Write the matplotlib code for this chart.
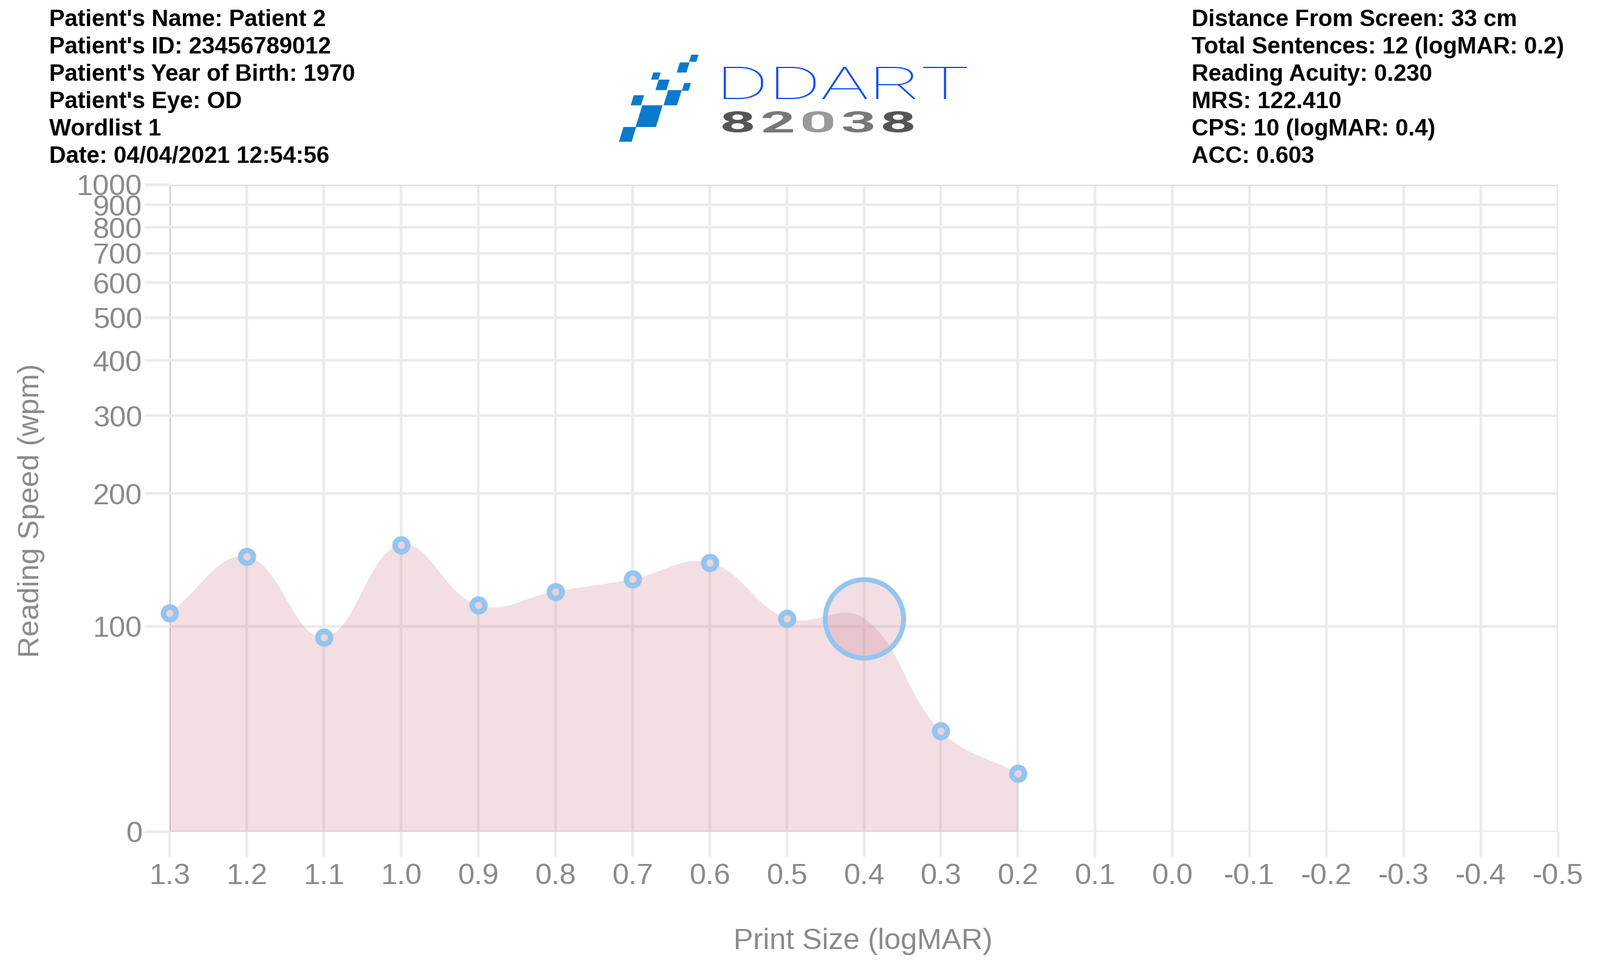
import numpy as np
import matplotlib
matplotlib.use('Agg')
import matplotlib.pyplot as plt
from matplotlib.textpath import TextPath
from matplotlib.font_manager import FontProperties
from matplotlib.patches import PathPatch, Polygon
from matplotlib.transforms import Affine2D

# %% data

left_info = ["Patient's Name: Patient 2",
             "Patient's ID: 23456789012",
             "Patient's Year of Birth: 1970",
             "Patient's Eye: OD",
             "Wordlist 1",
             "Date: 04/04/2021 12:54:56"]

right_info = ["Distance From Screen: 33 cm",
              "Total Sentences: 12 (logMAR: 0.2)",
              "Reading Acuity: 0.230",
              "MRS: 122.410",
              "CPS: 10 (logMAR: 0.4)",
              "ACC: 0.603"]

print_size = [1.3, 1.2, 1.1, 1.0, 0.9, 0.8, 0.7, 0.6, 0.5, 0.4, 0.3, 0.2]
reading_speed = [107.2, 143.9, 94.5, 153.0, 111.6, 119.9, 127.9, 139.4, 104.3, 104.3, 57.9, 46.4]
cps_logmar = 0.4

x_ticks = [1.3, 1.2, 1.1, 1.0, 0.9, 0.8, 0.7, 0.6, 0.5, 0.4, 0.3, 0.2, 0.1, 0.0,
           -0.1, -0.2, -0.3, -0.4, -0.5]
x_tick_labels = ['1.3', '1.2', '1.1', '1.0', '0.9', '0.8', '0.7', '0.6', '0.5', '0.4',
                 '0.3', '0.2', '0.1', '0.0', '-0.1', '-0.2', '-0.3', '-0.4', '-0.5']
y_ticks = [0, 100, 200, 300, 400, 500, 600, 700, 800, 900, 1000]

# %% figure setup

W, H = 2633, 1580
fig = plt.figure(figsize=(W / 100, H / 100), dpi=100)
pix = Affine2D().scale(1 / W, -1 / H).translate(0, 1) + fig.transFigure

GRID = '#ebebeb'
TXT = '#8a8a8a'
PT = 72 / 100  # px -> pt

ax = fig.add_axes([279 / W, (H - 1369) / H, (2564 - 279) / W, (1369 - 304) / H])

# log axis with the zero value squeezed below the first tick (chart.js style)
FIRST = 40.0
GAP = 49 / 727


def fwd(v):
    v = np.asarray(v, dtype=float)
    lg = np.log10(np.maximum(v, FIRST))
    lin = np.log10(FIRST) - GAP * (FIRST - v) / FIRST
    return np.where(v >= FIRST, lg, lin)


def inv(t):
    t = np.asarray(t, dtype=float)
    ex = 10 ** np.clip(t, -6, 6)
    lin = FIRST - (np.log10(FIRST) - t) * FIRST / GAP
    return np.where(t >= np.log10(FIRST), ex, lin)


ax.set_yscale('function', functions=(fwd, inv))
ax.set_xlim(1.3, -0.5)
ax.set_ylim(0, 1000)

ax.set_xticks(x_ticks)
ax.set_xticklabels(x_tick_labels)
ax.set_yticks(y_ticks)
ax.set_yticklabels([str(v) for v in y_ticks])
ax.yaxis.set_minor_locator(matplotlib.ticker.NullLocator())
ax.xaxis.set_minor_locator(matplotlib.ticker.NullLocator())

for s in ax.spines.values():
    s.set_visible(False)
ax.grid(True, color=GRID, linewidth=4.4 * PT, zorder=0)
ax.set_axisbelow(True)
ax.tick_params(length=41 * PT, width=4.4 * PT, color=GRID, labelcolor=TXT,
               labelsize=35)
ax.tick_params(axis='x', pad=7)
ax.tick_params(axis='y', pad=3)
for lab in ax.get_xticklabels() + ax.get_yticklabels():
    lab.set_family(['Liberation Sans', 'DejaVu Sans'])

# darker left axis line at the first x tick
t0 = ax.xaxis.get_major_ticks()[0]
t0.gridline.set_color('#c4c4c4')
t0.gridline.set_linewidth(3.5 * PT)
t0.tick1line.set_color('#c4c4c4')
ax.yaxis.get_major_ticks()[-1].gridline.set_color('#dddddd')

# %% smoothed area (chart.js bezier, tension 0.4)

pts = ax.transData.transform(np.column_stack([print_size, reading_speed]))
n = len(pts)
tension = 0.4
cp_prev = np.zeros_like(pts)
cp_next = np.zeros_like(pts)
for i in range(n):
    p0, p1, p2 = pts[max(i - 1, 0)], pts[i], pts[min(i + 1, n - 1)]
    d01 = np.hypot(*(p1 - p0))
    d12 = np.hypot(*(p2 - p1))
    tot = d01 + d12
    s01 = d01 / tot if tot else 0
    s12 = d12 / tot if tot else 0
    cp_prev[i] = p1 - tension * s01 * (p2 - p0)
    cp_next[i] = p1 + tension * s12 * (p2 - p0)

tt = np.linspace(0, 1, 60)[:, None]
curve = []
for i in range(n - 1):
    a, b, c, d = pts[i], cp_next[i], cp_prev[i + 1], pts[i + 1]
    seg = (1 - tt) ** 3 * a + 3 * (1 - tt) ** 2 * tt * b + 3 * (1 - tt) * tt ** 2 * c + tt ** 3 * d
    curve.append(seg)
curve = ax.transData.inverted().transform(np.vstack(curve))
cx, cy = curve[:, 0], curve[:, 1]

FILL = (207 / 255, 133 / 255, 155 / 255, 0.27)
ax.fill(np.r_[cx, cx[-1], cx[0]], np.r_[cy, 0, 0], color=FILL, lw=0, zorder=2)

# %% points

RING = '#94c5ee'
xs = [x for x in print_size if x != cps_logmar]
ys = [y for x, y in zip(print_size, reading_speed) if x != cps_logmar]
ax.plot(xs, ys, 'o', ms=21 * PT, mew=9 * PT, mfc='#ead3da', mec=RING, zorder=4, clip_on=False)
cps_speed = reading_speed[print_size.index(cps_logmar)]
ax.plot([cps_logmar], [cps_speed], 'o', ms=129 * PT, mew=8 * PT, mfc=FILL, mec=RING,
        zorder=4, clip_on=False)

# %% axis titles

fig.text(1420 / W, 1 - 1549 / H, 'Print Size (logMAR)', ha='center', va='center',
         fontsize=35, color=TXT, family=['Liberation Sans', 'DejaVu Sans'])
fig.text(52 / W, 1 - 840 / H, 'Reading Speed (wpm)', ha='center', va='center',
         rotation=90, fontsize=35, color=TXT, family=['Liberation Sans', 'DejaVu Sans'])

# %% header text

for k, line in enumerate(left_info):
    fig.text(81 / W, 1 - (43 + 45 * k) / H, line, ha='left', va='baseline',
             fontsize=27.5, fontweight='bold', color='black',
             family=['Liberation Sans', 'DejaVu Sans'])
for k, line in enumerate(right_info):
    fig.text(1961 / W, 1 - (43 + 45 * k) / H, line, ha='left', va='baseline',
             fontsize=27.5, fontweight='bold', color='black',
             family=['Liberation Sans', 'DejaVu Sans'])

# %% logo

LOGO_BLUE = '#0a7acc'
skew = 0.31
blocks = [(1137.5, 90, 12, 11.7), (1118.8, 102.7, 16, 16.7), (1075, 119.3, 12, 11.7),
          (1084, 131, 18, 17.3), (1126, 136.7, 11, 12.7), (1043, 156.7, 17, 16.7),
          (1099.6, 148.3, 22.3, 25), (1057, 173.3, 33.5, 35.7), (1026, 209, 21, 24.3)]
for bx, by, bw, bh in blocks:
    poly = [(bx, by), (bx + bw, by), (bx + bw - skew * bh, by + bh), (bx - skew * bh, by + bh)]
    fig.add_artist(Polygon(poly, closed=True, facecolor=LOGO_BLUE, edgecolor='none',
                           transform=pix))


def text_in_box(s, x0, y0, x1, y1, color, prop):
    tp = TextPath((0, 0), s, size=100, prop=prop)
    ext = tp.get_extents()
    tr = Affine2D().translate(-ext.x0, -ext.y0).scale((x1 - x0) / ext.width,
                                                      -(y1 - y0) / ext.height).translate(x0, y1)
    fig.add_artist(PathPatch(tr.transform_path(tp), facecolor=color, edgecolor='none',
                             transform=pix))


text_in_box('DDART', 1191, 110, 1591, 163, '#0b4df5',
            FontProperties(family='Roboto', weight='light'))
digit_colors = ['#555555', '#777777', '#999999', '#777777', '#555555']
for k, (ch, col) in enumerate(zip('82038', digit_colors)):
    x0 = 1189 + k * 66
    text_in_box(ch, x0, 183, x0 + 50, 218, col,
                FontProperties(family='Roboto', weight='bold'))

fig.savefig('out.png', dpi=100, facecolor='white')
